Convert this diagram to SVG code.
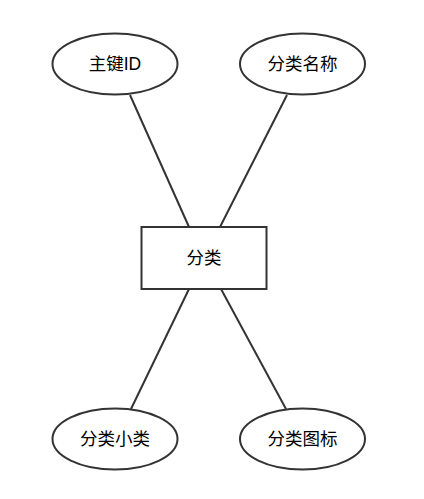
<svg xmlns="http://www.w3.org/2000/svg" width="424" height="499" viewBox="0 0 424 499">
<style>
.s{fill:#fff;stroke:#333;stroke-width:2}
.l{stroke:#333;stroke-width:2;fill:none}
text{font-family:"Liberation Sans","Noto Sans CJK SC",sans-serif;font-size:17.5px;fill:#000;text-anchor:middle;dominant-baseline:central}
</style>
<rect width="424" height="499" fill="#fff"/>
<g id="connectors">
<line class="l" x1="130" y1="95" x2="189" y2="227"/>
<line class="l" x1="287" y1="95" x2="220" y2="227"/>
<line class="l" x1="189" y1="289" x2="131" y2="409"/>
<line class="l" x1="221" y1="289" x2="286" y2="409"/>
</g>
<g id="n-id"><ellipse class="s" cx="115" cy="64" rx="62.5" ry="30.5"/><text x="115" y="64">主键ID</text></g>
<g id="n-name"><ellipse class="s" cx="302.5" cy="64" rx="62.5" ry="30.5"/><text x="302.5" y="64">分类名称</text></g>
<g id="n-cat"><rect class="s" x="141.5" y="227" width="125" height="62"/><text x="204" y="258">分类</text></g>
<g id="n-sub"><ellipse class="s" cx="115" cy="439" rx="62.5" ry="30.5"/><text x="115" y="439">分类小类</text></g>
<g id="n-icon"><ellipse class="s" cx="302.5" cy="439" rx="62.5" ry="30.5"/><text x="302.5" y="439">分类图标</text></g>
</svg>
